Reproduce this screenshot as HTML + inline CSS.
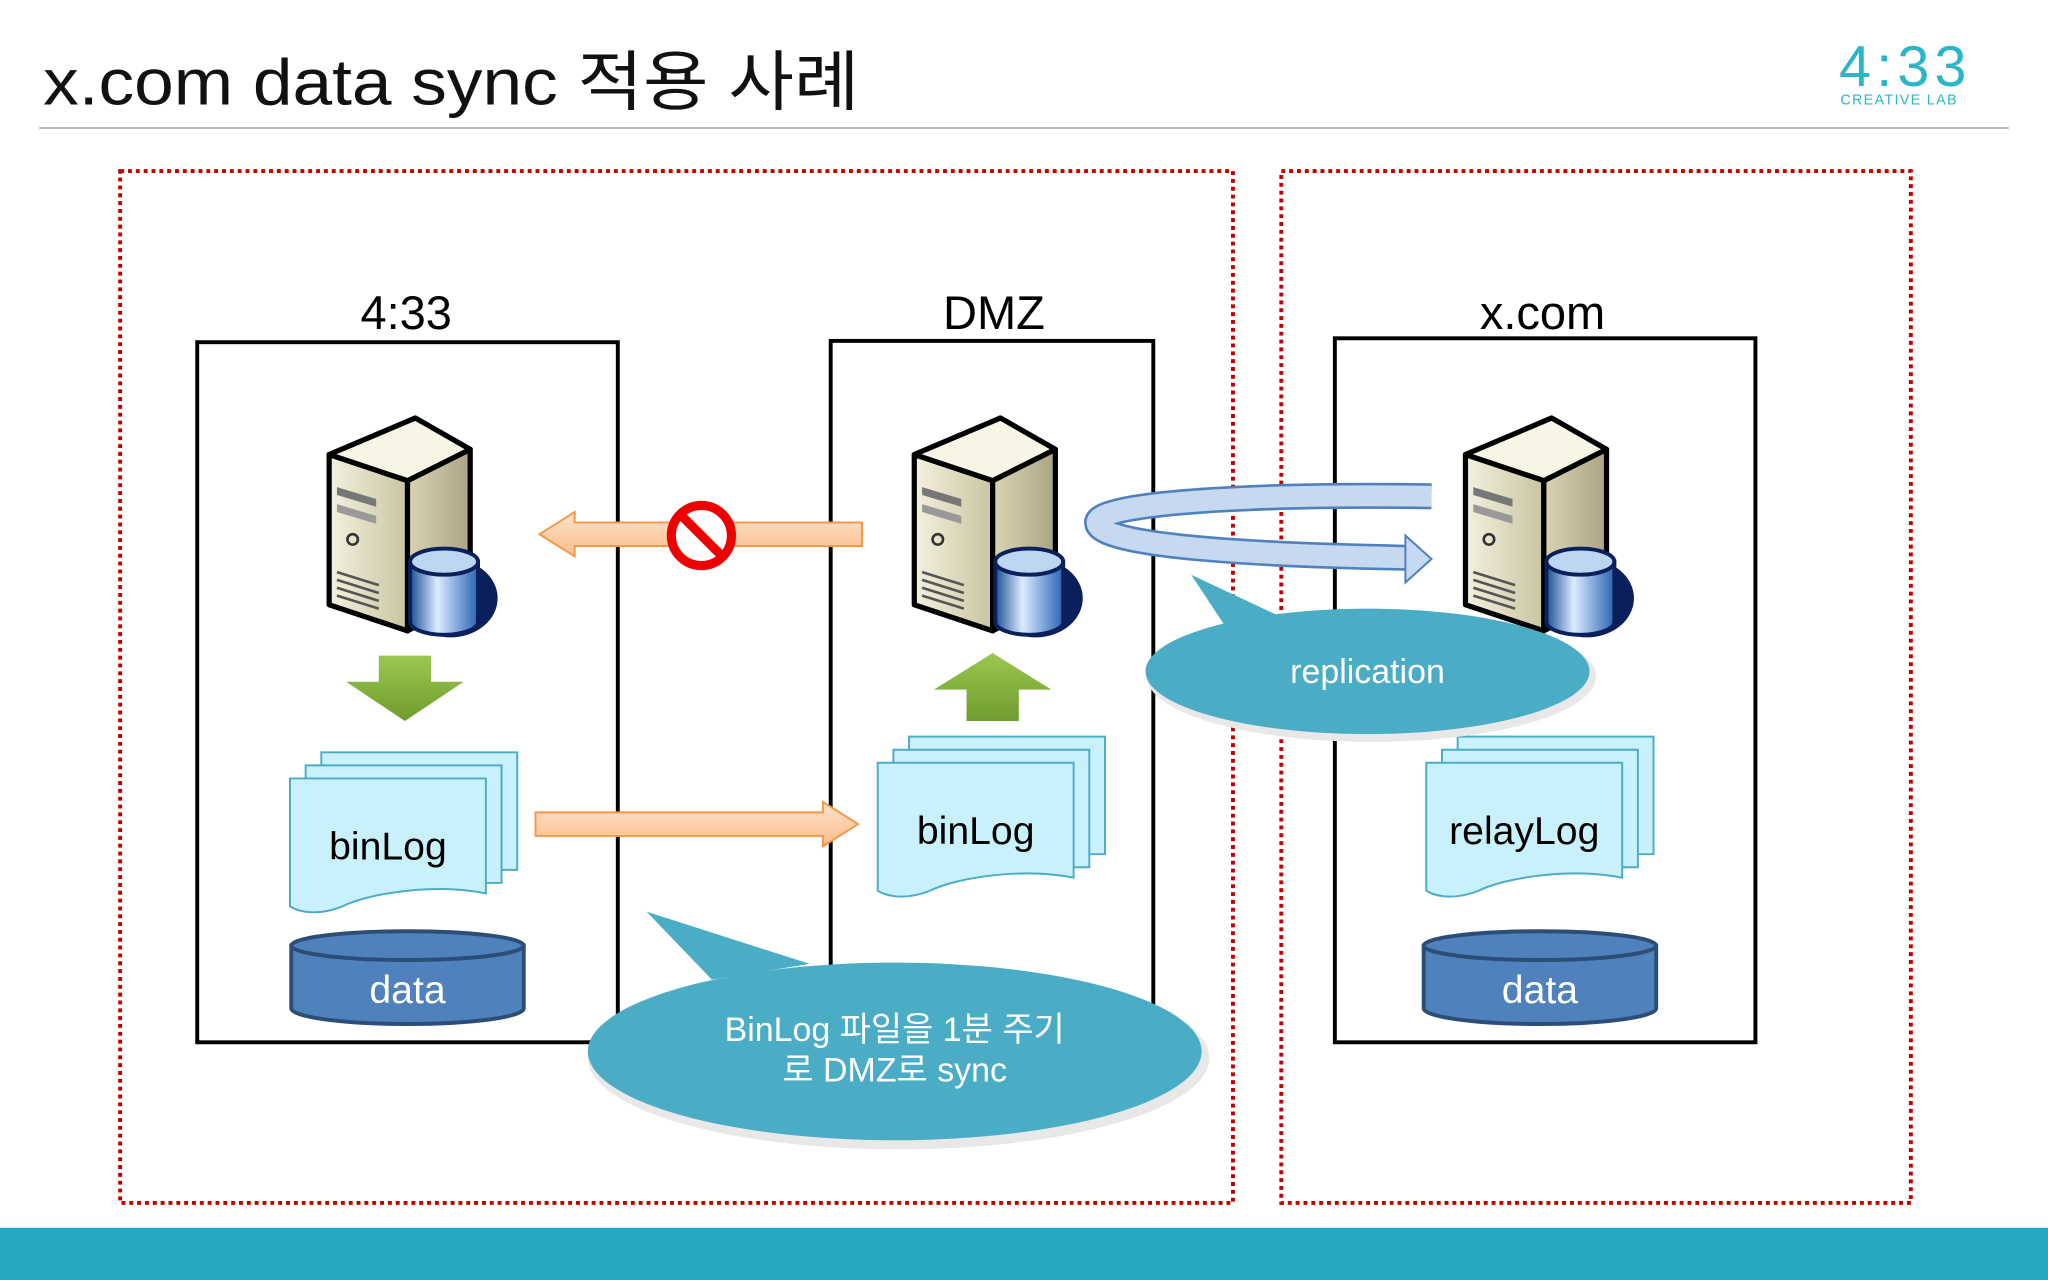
<!DOCTYPE html>
<html><head><meta charset="utf-8"><style>
html,body{margin:0;padding:0;background:#fff;width:2048px;height:1280px;overflow:hidden}
svg{display:block}
text{font-family:"Liberation Sans","Noto Sans CJK KR",sans-serif}
</style></head><body>
<svg width="2048" height="1280" viewBox="0 0 1568 980" xmlns="http://www.w3.org/2000/svg">
<defs>
<linearGradient id="front" x1="0" y1="0" x2="1" y2="0"><stop offset="0" stop-color="#f3f1df"/><stop offset="1" stop-color="#c9c4a0"/></linearGradient>
<linearGradient id="side" x1="0" y1="0" x2="1" y2="0"><stop offset="0" stop-color="#d9d4b2"/><stop offset="1" stop-color="#aba583"/></linearGradient>
<linearGradient id="cyl" x1="0" y1="0" x2="1" y2="0"><stop offset="0" stop-color="#1d4f95"/><stop offset="0.4" stop-color="#dcecff"/><stop offset="1" stop-color="#2a64b4"/></linearGradient>
<linearGradient id="orange" x1="0" y1="0" x2="0" y2="1"><stop offset="0" stop-color="#fde3cc"/><stop offset="1" stop-color="#fbbd8a"/></linearGradient>
<linearGradient id="green" x1="0" y1="0" x2="0" y2="1"><stop offset="0" stop-color="#9bc750"/><stop offset="1" stop-color="#6f9c2e"/></linearGradient>
<g id="server">
 <ellipse cx="95" cy="140" rx="36" ry="30" fill="#0a1f5c"/>
 <polygon points="2,30 62,50 62,165 2,145" fill="url(#front)" stroke="#000" stroke-width="4" stroke-linejoin="round"/>
 <polygon points="62,50 110,26 110,140 62,165" fill="url(#side)" stroke="#000" stroke-width="4" stroke-linejoin="round"/>
 <polygon points="2,30 68,2 110,26 62,50" fill="#f7f5e6" stroke="#000" stroke-width="4" stroke-linejoin="round"/>
 <polygon points="8,55 38,64 38,70 8,61" fill="#777"/>
 <polygon points="8,68 38,77 38,83 8,74" fill="#999"/>
 <circle cx="20" cy="95" r="4" fill="none" stroke="#333" stroke-width="2"/>
 <path d="M8 120 L40 130 M8 126 L40 136 M8 132 L40 142 M8 138 L40 148" stroke="#555" stroke-width="2"/>
 <path d="M64 112 L64 158 A26 10 0 0 0 116 158 L116 112 Z" fill="url(#cyl)" stroke="#0a1f5c" stroke-width="3"/>
 <ellipse cx="90" cy="112" rx="26" ry="10" fill="#bcd6f2" stroke="#0a1f5c" stroke-width="3"/>
</g>
<g id="docs">
 <path d="M24 0 H174 V90 H24 Z" fill="#c9f1fb" stroke="#4bacc6" stroke-width="1.5"/>
 <path d="M12 10 H162 V100 H12 Z" fill="#c9f1fb" stroke="#4bacc6" stroke-width="1.5"/>
 <path d="M0 20 H150 V108 C110 100 60 108 40 118 C25 124 10 124 0 118 Z" fill="#c9f1fb" stroke="#4bacc6" stroke-width="1.5"/>
</g>
<g id="cylinder">
 <path d="M0 12 V60 A89 12 0 0 0 178 60 V12 Z" fill="#4f81bd" stroke="#2c4d75" stroke-width="3"/>
 <ellipse cx="89" cy="12" rx="89" ry="11" fill="#4f81bd" stroke="#2c4d75" stroke-width="3"/>
</g>
</defs>

<text x="33" y="80" font-size="50" fill="#111" textLength="625" lengthAdjust="spacingAndGlyphs">x.com data sync 적용 사례</text>
<line x1="30" y1="98" x2="1538" y2="98" stroke="#bbb" stroke-width="1.5"/>
<text x="1408" y="66" font-size="44" fill="#2bb5c8" font-family="Liberation Mono,monospace" letter-spacing="4">4:33</text>
<text x="1409" y="80" font-size="11" fill="#2bb5c8" font-family="Liberation Mono,monospace" letter-spacing="1">CREATIVE LAB</text>

<rect x="92" y="131" width="852" height="790" fill="none" stroke="#c00000" stroke-width="3" stroke-dasharray="3 3"/>
<rect x="981" y="131" width="482" height="790" fill="none" stroke="#c00000" stroke-width="3" stroke-dasharray="3 3"/>

<rect x="151" y="262" width="322" height="536" fill="none" stroke="#000" stroke-width="3"/>
<rect x="636" y="261" width="247" height="540" fill="none" stroke="#000" stroke-width="3"/>
<rect x="1022" y="259" width="322" height="539" fill="none" stroke="#000" stroke-width="3"/>
<text x="311" y="252" font-size="36" text-anchor="middle">4:33</text>
<text x="761" y="252" font-size="36" text-anchor="middle">DMZ</text>
<text x="1181" y="252" font-size="36" text-anchor="middle">x.com</text>

<use href="#server" x="250" y="318"/>
<use href="#server" x="698" y="318"/>
<use href="#server" x="1120" y="318"/>

<polygon points="660,400 440,400 440,392 413,409 440,426 440,418 660,418" fill="url(#orange)" stroke="#f79646" stroke-width="1.5"/>
<polygon points="410,622 630,622 630,614 657,631 630,648 630,640 410,640" fill="url(#orange)" stroke="#f79646" stroke-width="1.5"/>
<circle cx="537" cy="410" r="23" fill="#fff" stroke="#e00" stroke-width="7"/>
<line x1="521" y1="394" x2="553" y2="426" stroke="#e00" stroke-width="7"/>

<polygon points="290,502 330,502 330,522 355,522 310,552 265,522 290,522" fill="url(#green)"/>
<polygon points="740,552 780,552 780,528 805,528 760,500 715,528 740,528" fill="url(#green)"/>

<use href="#docs" x="222" y="576"/>
<use href="#docs" x="672" y="564"/>
<use href="#docs" x="1092" y="564"/>
<text x="297" y="658" font-size="30" text-anchor="middle">binLog</text>
<text x="747" y="646" font-size="30" text-anchor="middle">binLog</text>
<text x="1167" y="646" font-size="30" text-anchor="middle">relayLog</text>

<use href="#cylinder" x="223" y="712"/>
<use href="#cylinder" x="1090" y="712"/>
<text x="312" y="768" font-size="30" fill="#fff" text-anchor="middle">data</text>
<text x="1179" y="768" font-size="30" fill="#fff" text-anchor="middle">data</text>

<path d="M1096 380 C960 378 840 385 840 400 C840 418 960 425 1078 427" fill="none" stroke="#4f81bd" stroke-width="20"/>
<path d="M1096 380 C960 378 840 385 840 400 C840 418 960 425 1078 427" fill="none" stroke="#c6d9f1" stroke-width="16"/>
<polygon points="1076,410 1096,428 1076,446" fill="#c6d9f1" stroke="#4f81bd" stroke-width="1.5"/>

<ellipse cx="1050" cy="518" rx="172" ry="50" fill="#e8e8e8"/>
<ellipse cx="1047" cy="514" rx="170" ry="48" fill="#4bacc6"/>
<polygon points="912,440 980,472 945,490" fill="#4bacc6"/>
<text x="1047" y="523" font-size="26" fill="#fff" text-anchor="middle">replication</text>

<ellipse cx="688" cy="810" rx="238" ry="70" fill="#e8e8e8"/>
<ellipse cx="685" cy="805" rx="235" ry="68" fill="#4bacc6"/>
<polygon points="495,698 620,738 545,750" fill="#4bacc6"/>
<text x="685" y="797" font-size="26" fill="#fff" text-anchor="middle">BinLog 파일을 1분 주기</text>
<text x="685" y="828" font-size="26" fill="#fff" text-anchor="middle">로 DMZ로 sync</text>

<rect x="0" y="940" width="1568" height="40" fill="#22a8c0"/>
</svg>
</body></html>
